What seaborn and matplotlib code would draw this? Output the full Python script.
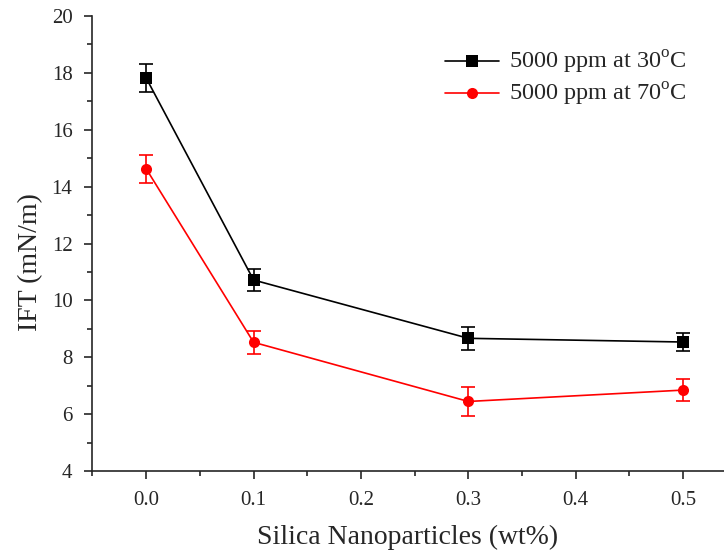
import matplotlib
matplotlib.use("Agg")
import matplotlib.pyplot as plt
import seaborn as sns
import pandas as pd
from matplotlib.ticker import MultipleLocator

sns.set_style("ticks")
plt.rcParams['font.family'] = ['Liberation Serif', 'DejaVu Serif']
plt.rcParams['mathtext.fontset'] = 'custom'
plt.rcParams['mathtext.rm'] = 'Liberation Serif'

conc = [0.0, 0.1, 0.3, 0.5]
ift_30 = [17.82, 10.72, 8.67, 8.54]
err_30 = [0.5, 0.4, 0.4, 0.3]
ift_70 = [14.63, 8.53, 6.45, 6.85]
err_70 = [0.5, 0.4, 0.5, 0.4]
labels = ["5000 ppm at 30$^{\\rm o}$C", "5000 ppm at 70$^{\\rm o}$C"]

df = pd.DataFrame({
    "conc": conc * 2,
    "ift": ift_30 + ift_70,
    "err": err_30 + err_70,
    "series": [labels[0]] * 4 + [labels[1]] * 4,
})

fig = plt.figure(figsize=(7.24, 5.53), dpi=100)
ax = fig.add_axes([0.127, 0.148, 0.873, 0.823])

palette = {labels[0]: "black", labels[1]: "red"}
markers = {labels[0]: "s", labels[1]: "o"}
for lab in labels:
    sub = df[df.series == lab]
    ax.errorbar(sub.conc, sub.ift, yerr=sub.err, fmt="none", ecolor=palette[lab],
                elinewidth=1.2, capsize=5, capthick=1.2, zorder=2)
sns.lineplot(data=df, x="conc", y="ift", hue="series", style="series",
             palette=palette, markers=markers, dashes=False, markersize=8,
             markeredgewidth=0, linewidth=1.2, ax=ax, zorder=3)

ax.set_xlim(-0.0505, 0.538)
ax.set_ylim(4, 20)
ax.xaxis.set_major_locator(MultipleLocator(0.1))
ax.xaxis.set_minor_locator(MultipleLocator(0.05))
ax.yaxis.set_major_locator(MultipleLocator(2))
ax.yaxis.set_minor_locator(MultipleLocator(1))
ax.xaxis.set_major_formatter(matplotlib.ticker.FormatStrFormatter('%.1f'))
ax.tick_params(which='major', direction='out', length=6, width=1.2, labelsize=15)
ax.tick_params(axis='x', which='major', pad=8)
ax.tick_params(axis='y', which='major', pad=8)
ax.tick_params(which='minor', direction='out', length=3.5, width=1.2)
for s in ['top', 'right']:
    ax.spines[s].set_visible(False)
for s in ['left', 'bottom']:
    ax.spines[s].set_linewidth(1.2)

ax.set_xlabel("Silica Nanoparticles (wt%)", fontsize=20, labelpad=11)
ax.set_ylabel("IFT (mN/m)", fontsize=20, va='center')
ax.yaxis.set_label_coords(-0.097, 0.459)

leg = ax.legend(loc='upper right', bbox_to_anchor=(0.975, 0.975), frameon=False,
                fontsize=17.5, handlelength=2.2, handletextpad=0.4, labelspacing=0.2)

fig.savefig("out.png", dpi=100)
